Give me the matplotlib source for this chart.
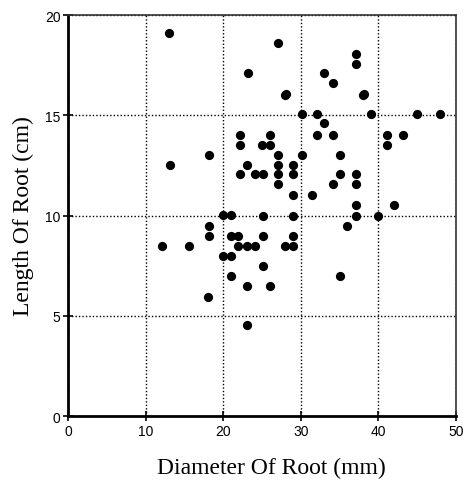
import matplotlib
matplotlib.use("Agg")
import matplotlib.pyplot as plt

# Diameter (mm) and length (cm) of each root
diameter = [13.0, 23.2, 27.1, 33.0, 34.2, 37.1, 37.1, 28.0, 28.1, 38.0,
            38.1, 30.1, 32.1, 39.1, 45.0, 47.9, 33.0, 22.1, 26.0, 32.1,
            34.1, 41.1, 43.1, 22.1, 25.0, 26.0, 41.1, 18.1, 27.1, 30.1,
            35.1, 13.1, 23.1, 27.1, 29.0, 22.1, 24.1, 25.1, 27.1, 29.0,
            35.1, 37.1, 27.1, 34.1, 37.1, 29.0, 31.5, 37.1, 42.0, 20.0,
            21.0, 25.1, 29.0, 37.1, 40.0, 18.1, 36.0, 18.1, 21.0, 21.9,
            25.1, 29.0, 12.1, 15.6, 21.9, 23.0, 24.1, 28.0, 29.0, 20.0,
            21.0, 25.1, 21.0, 35.1, 23.1, 26.0, 18.0, 23.1]
length = [19.1, 17.1, 18.6, 17.1, 16.6, 18.05, 17.55, 16.0, 16.05, 16.0,
          16.05, 15.05, 15.05, 15.05, 15.05, 15.05, 14.6, 14.0, 14.0, 14.0,
          14.0, 14.0, 14.0, 13.5, 13.5, 13.5, 13.5, 13.0, 13.0, 13.0,
          13.0, 12.5, 12.5, 12.5, 12.5, 12.05, 12.05, 12.05, 12.05, 12.05,
          12.05, 12.05, 11.55, 11.55, 11.55, 11.0, 11.0, 10.55, 10.55, 10.05,
          10.05, 10.0, 10.0, 10.0, 10.0, 9.5, 9.5, 9.0, 9.0, 9.0,
          9.0, 9.0, 8.5, 8.5, 8.5, 8.5, 8.5, 8.5, 8.5, 8.0,
          8.0, 7.5, 7.0, 7.0, 6.5, 6.5, 5.95, 4.55]

x_ticks = [0, 10, 20, 30, 40, 50]
y_ticks = [0, 5, 10, 15, 20]

fig = plt.figure(figsize=(4.63, 4.85), dpi=100)
ax = fig.add_axes([0.147, 0.140, 0.838, 0.827])

ax.scatter(diameter, length, s=44, color="black", marker="o", zorder=3,
           linewidths=0)

ax.set_xlim(0, 50)
ax.set_ylim(0, 20)
ax.set_xticks(x_ticks)
ax.set_yticks(y_ticks)
ax.grid(True, color="black", linestyle=(0, (1, 1.5)), linewidth=1.0)
ax.set_axisbelow(True)

for side in ["left", "bottom"]:
    ax.spines[side].set_linewidth(2.0)
for side in ["top", "right"]:
    ax.spines[side].set_linewidth(1.2)
    ax.spines[side].set_color("#333333")

ax.tick_params(direction="inout", length=7, width=1.2, labelsize=10, pad=2)
for lab in ax.get_xticklabels() + ax.get_yticklabels():
    lab.set_fontfamily("Liberation Sans")

ax.set_xlabel("Diameter Of Root (mm)", fontfamily="Liberation Serif",
              fontsize=17, labelpad=14)
ax.xaxis.label.set_x(0.525)
ax.set_ylabel("Length Of Root (cm)", fontfamily="Liberation Serif",
              fontsize=17, labelpad=8)

fig.savefig("out.png", dpi=100, facecolor="white")
